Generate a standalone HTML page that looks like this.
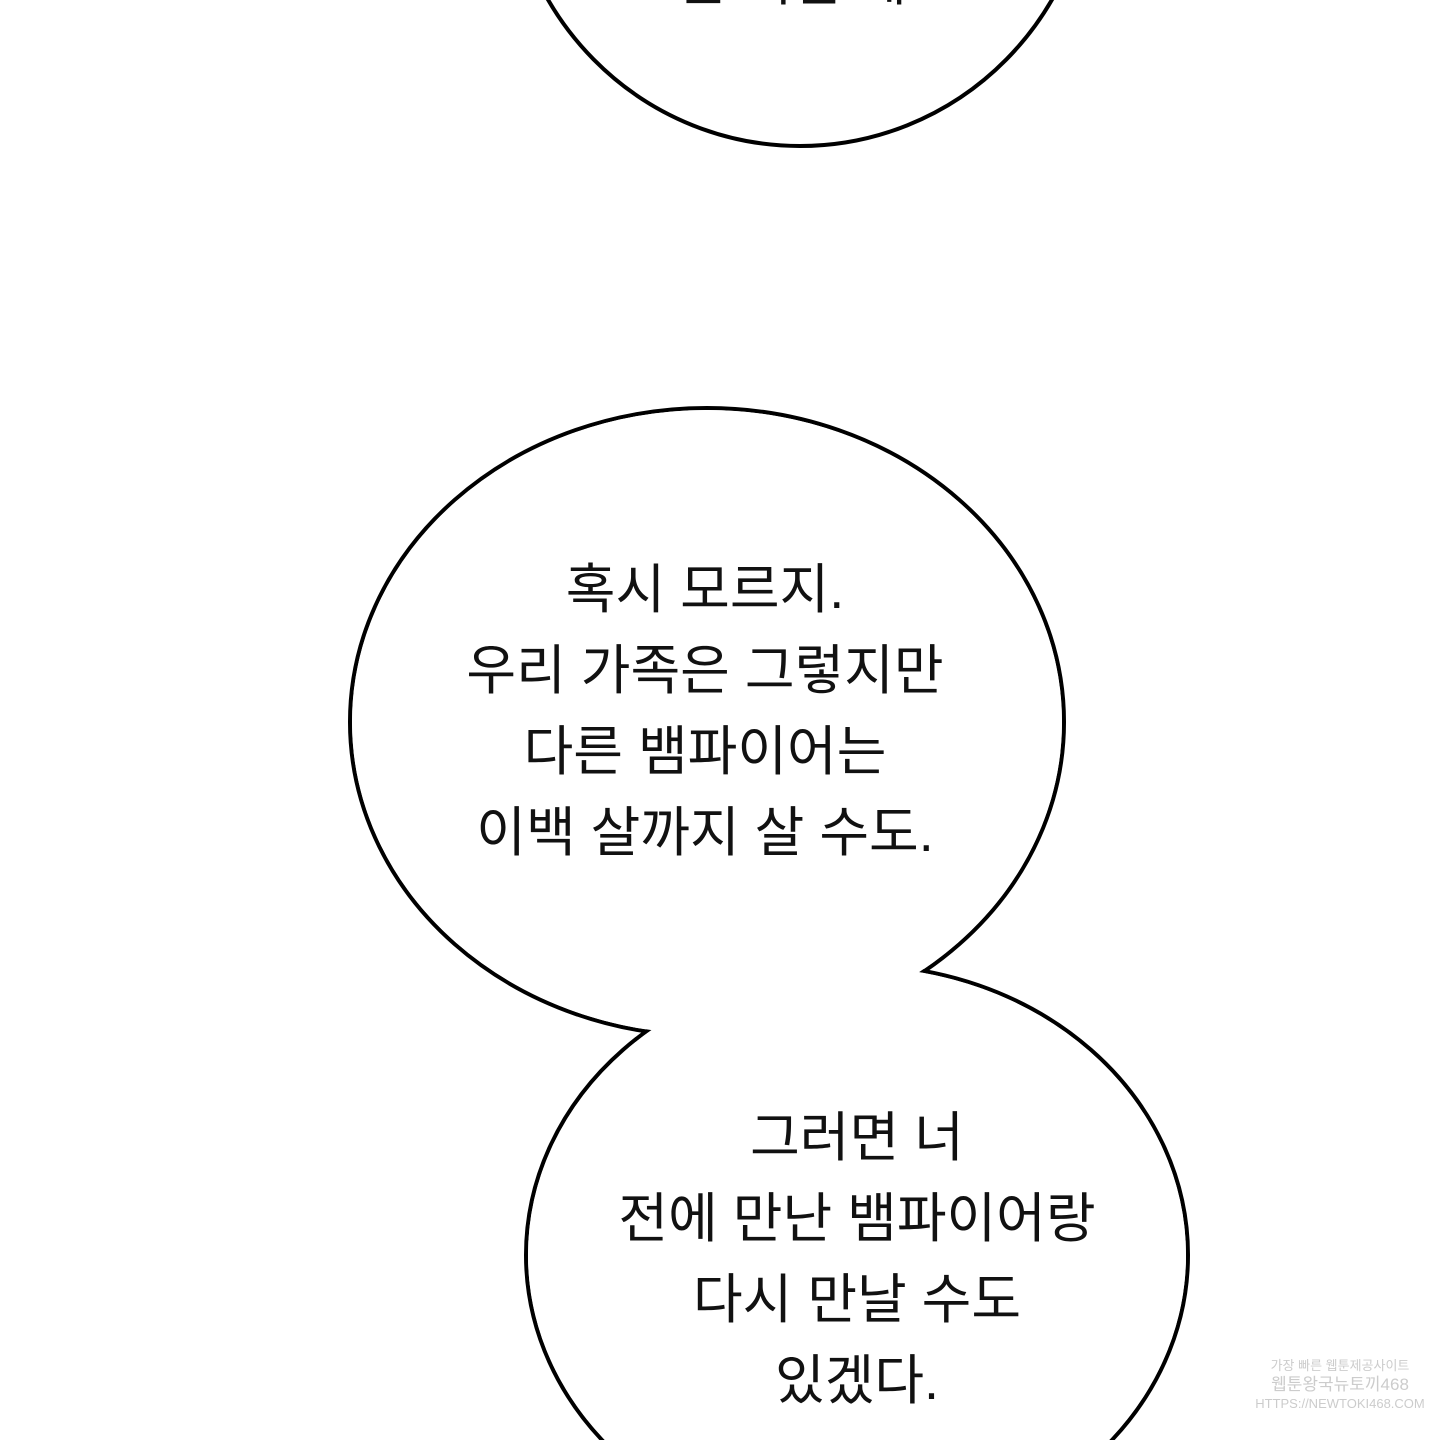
<!DOCTYPE html>
<html><head><meta charset="utf-8"><style>
html,body{margin:0;padding:0;background:#fff;width:1440px;height:1440px;overflow:hidden;}
body{position:relative;font-family:"Liberation Sans","Noto Sans CJK KR","NanumGothic",sans-serif;}
.t{position:absolute;text-align:center;font-size:54px;line-height:81px;color:#111;white-space:nowrap;}
</style></head><body>
<svg width="1440" height="1440" style="position:absolute;left:0;top:0">
<ellipse cx="800" cy="-150" rx="292" ry="296" fill="#fff" stroke="#000" stroke-width="4"/>
<ellipse cx="707" cy="722" rx="357" ry="314" fill="#fff" stroke="#000" stroke-width="4"/>
<ellipse cx="857" cy="1255" rx="331" ry="290" fill="#fff" stroke="#000" stroke-width="4"/>
<ellipse cx="707" cy="722" rx="355" ry="312" fill="#fff"/>
<ellipse cx="857" cy="1255" rx="329" ry="288" fill="#fff"/>
<g fill="#ccc" font-size="13" font-family="Liberation Sans,Noto Sans CJK KR,sans-serif" text-anchor="middle">
<text x="1340" y="1370">가장 빠른 웹툰제공사이트</text>
<text x="1340" y="1390" font-size="17">웹툰왕국뉴토끼468</text>
<text x="1340" y="1408">HTTPS://NEWTOKI468.COM</text>
</g>
</svg>
<div class="t" style="left:560px;width:480px;top:-58px;">는 거란 데.</div>
<div class="t" style="left:405px;width:600px;top:550px;">혹시 모르지.<br>우리 가족은 그렇지만<br>다른 뱀파이어는<br>이백 살까지 살 수도.</div>
<div class="t" style="left:557px;width:600px;top:1098px;">그러면 너<br>전에 만난 뱀파이어랑<br>다시 만날 수도<br>있겠다.</div>
</body></html>
